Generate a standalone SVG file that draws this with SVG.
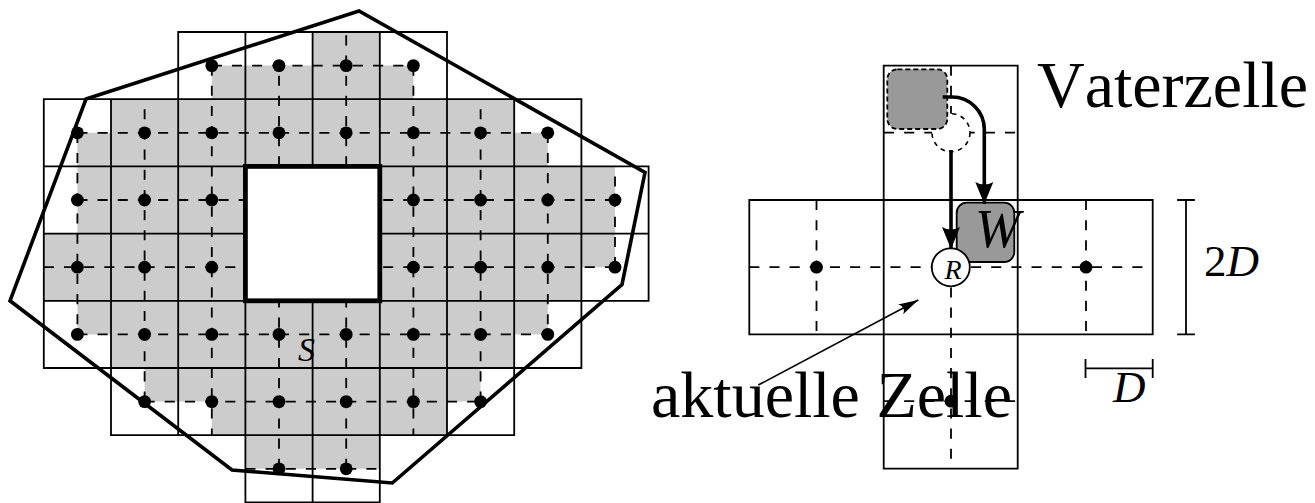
<svg xmlns="http://www.w3.org/2000/svg" width="1315" height="503" viewBox="0 0 1315 503">
<style>
.g{fill:none;stroke:#000;stroke-width:1.8;stroke-linecap:square}
.d{fill:none;stroke:#000;stroke-width:1.8;stroke-dasharray:10.08 10.08}
.dot{fill:#000;stroke:none}
.t{font-family:"Liberation Serif","Times New Roman",serif;fill:#000;font-kerning:none}
.i{font-style:italic}
.cell{fill:#999;stroke:#000;stroke-width:1.8}
.ar{fill:none;stroke:#000;stroke-width:3.6}
</style>
<defs>
<circle id="p" class="dot" r="6.4"/>
<marker id="big" markerUnits="userSpaceOnUse" markerWidth="26" markerHeight="24" refX="22" refY="10" orient="auto"><path d="M0 1 Q5 10 0 19 L22 10 Z" fill="#000"/></marker>
<marker id="thin" markerUnits="userSpaceOnUse" markerWidth="24" markerHeight="16" refX="20" refY="6" orient="auto"><path d="M0 0.500 Q6 6 0 11.500 L20 6 Z" fill="#000"/></marker>
</defs>
<rect width="1315" height="503" fill="#fff"/>
<g id="room">
<path id="free-area" fill="#ccc" d="M312.6 32H379.8V65.6H413.4V99.2H514.2V132.8H547.8V166.4H615V267.2H581.4V300.8H547.8V334.4H514.2V368H480.6V401.6H447V435.2H379.8V468.8H245.4V435.2H211.8V401.6H144.6V368H111V334.4H77.4V300.8H43.8V233.6H77.4V132.8H111V99.2H211.8V65.6H312.6Z"/>
<path id="grid" class="g" d="M178.2 32H447M43.8 99.2H581.4M43.8 166.4H648.6M43.8 233.6H245.4M379.8 233.6H648.6M43.8 300.8H648.6M43.8 368H581.4M111 435.2H514.2M245.4 502.4H379.8M43.8 99.2V368M111 99.2V435.2M178.2 32V435.2M245.4 32V502.4M312.6 32V166.4M312.6 300.8V502.4M379.8 32V502.4M447 32V435.2M514.2 99.2V435.2M581.4 99.2V368M648.6 166.4V300.8"/>
<path id="wave-h" class="d" d="M211.8 65.6H413.4M77.4 132.8H547.8M77.4 200H245.4M615 200H379.8M43.8 267.2H245.4M615 267.2H379.8M77.4 334.4H547.8M144.6 401.6H480.6M245.4 468.8H379.8"/>
<path id="wave-v" class="d" d="M77.4 132.8V334.4M144.6 401.6V99.2M211.8 65.6V435.2M279 166.4V65.6M346.2 166.4V32M279 468.8V300.8M346.2 468.8V300.8M413.4 65.6V435.2M480.6 401.6V99.2M547.8 132.8V334.4M615 267.2V166.4"/>
<g id="dots">
<use href="#p" x="211.8" y="65.6"/><use href="#p" x="279" y="65.6"/><use href="#p" x="346.2" y="65.6"/><use href="#p" x="413.4" y="65.6"/>
<use href="#p" x="77.4" y="132.8"/><use href="#p" x="144.6" y="132.8"/><use href="#p" x="211.8" y="132.8"/><use href="#p" x="279" y="132.8"/><use href="#p" x="346.2" y="132.8"/><use href="#p" x="413.4" y="132.8"/><use href="#p" x="480.6" y="132.8"/><use href="#p" x="547.8" y="132.8"/>
<use href="#p" x="77.4" y="200"/><use href="#p" x="144.6" y="200"/><use href="#p" x="211.8" y="200"/><use href="#p" x="413.4" y="200"/><use href="#p" x="480.6" y="200"/><use href="#p" x="547.8" y="200"/><use href="#p" x="615" y="200"/>
<use href="#p" x="77.4" y="267.2"/><use href="#p" x="144.6" y="267.2"/><use href="#p" x="211.8" y="267.2"/><use href="#p" x="413.4" y="267.2"/><use href="#p" x="480.6" y="267.2"/><use href="#p" x="547.8" y="267.2"/><use href="#p" x="615" y="267.2"/>
<use href="#p" x="77.4" y="334.4"/><use href="#p" x="144.6" y="334.4"/><use href="#p" x="211.8" y="334.4"/><use href="#p" x="279" y="334.4"/><use href="#p" x="346.2" y="334.4"/><use href="#p" x="413.4" y="334.4"/><use href="#p" x="480.6" y="334.4"/><use href="#p" x="547.8" y="334.4"/>
<use href="#p" x="144.6" y="401.6"/><use href="#p" x="211.8" y="401.6"/><use href="#p" x="279" y="401.6"/><use href="#p" x="346.2" y="401.6"/><use href="#p" x="413.4" y="401.6"/><use href="#p" x="480.6" y="401.6"/>
<use href="#p" x="279" y="468.8"/><use href="#p" x="346.2" y="468.8"/>
</g>
<rect id="hole" x="245.4" y="166.4" width="134.4" height="134.4" fill="#fff" stroke="#000" stroke-width="4.8"/>
<path id="outline" fill="none" stroke="#000" stroke-width="3.6" stroke-linejoin="miter" d="M86 99L359 11L645 172.5L622 284.5L392.3 483L232 470L10 300.8Z"/>
<text class="t i" x="298" y="361" font-size="34">S</text>
</g>
<g id="cells">
<path class="g" d="M749.3 200H1152.7V334.3H749.3ZM883.7 65.7H1017.7V468.7H883.7Z"/>
<path class="d" d="M951 65.7V468.7M884 132.7H1018M749.3 267.2H1152.7M884 401.2H1018M816.5 200V334.3M1086 200V334.3"/>
<use href="#p" x="816.5" y="267.2"/><use href="#p" x="1086" y="267.2"/><use href="#p" x="951" y="401.2"/>
</g>
<g id="father-ghost"><circle cx="951" cy="132.7" r="19" fill="#fff" stroke="#000" stroke-width="1.6" stroke-dasharray="4.5 4.5"/></g>
<g id="father-w"><rect x="887.3" y="69.3" width="60" height="59.7" rx="10" fill="#999" stroke="#000" stroke-width="1.8" stroke-dasharray="5 3"/></g>
<g id="w"><rect class="cell" x="956.7" y="202.7" width="57.6" height="59.3" rx="10"/><text class="t i" x="975" y="246.7" font-size="54">W</text></g>
<g id="r"><circle cx="950.8" cy="267.3" r="19" fill="#fff" stroke="#000" stroke-width="1.8"/><text class="t i" x="944.5" y="279" font-size="28">R</text></g>
<g id="connectors">
<path class="ar" marker-end="url(#big)" d="M951 150V249"/>
<path class="ar" marker-end="url(#big)" d="M942.7 97H952A32.300 32.300 0 0 1 984.300 129.300V204"/>
<path fill="none" stroke="#000" stroke-width="1.6" marker-end="url(#thin)" d="M758.300 385L918.300 300"/>
</g>
<g id="dimensions">
<path class="g" d="M1186 200V334.300M1178 200H1194M1178 334.300H1194M1085.500 368.300H1152.700M1085.500 360V377M1152.700 360V377"/>
<text class="t" x="1204" y="275.700" font-size="45">2<tspan class="i">D</tspan></text>
<text class="t i" x="1113" y="401.700" font-size="45">D</text>
</g>
<g id="labels">
<text class="t" x="1037" y="106.700" font-size="66">Vaterzelle</text>
<text class="t" x="651" y="417.300" font-size="66">aktuelle Zelle</text>
</g>
</svg>
